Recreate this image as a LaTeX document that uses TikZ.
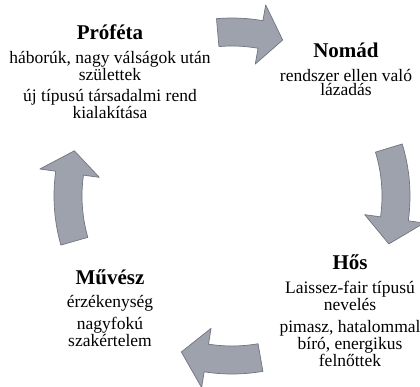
\documentclass[tikz,border=0pt]{standalone}
\usepackage{fontspec}
\setmainfont{Liberation Serif}
\usepackage{xcolor}
\usepackage{tikz}
\definecolor{arrowgray} {RGB} {158, 162, 172}
\definecolor{arrowedge} {RGB} {112, 116, 126}
\usetikzlibrary{calc}
\tikzstyle{cycle}=[
  x=1pt, y=1pt, line join=round
]
\tikzstyle{cyctitle}=[
  font=\fontsize{21}{21}\selectfont\bfseries, inner sep=0pt
]
\tikzstyle{cyctext}=[
  font=\fontsize{17.5}{14.5}\selectfont, align=center, inner sep=0pt, anchor=north
]
\tikzstyle{cycarrow}=[
  fill=arrowgray, draw=arrowedge, line width=0.7pt
]
% block arrow on the ring: start angle, head base angle, tip angle
\newcommand{\ringarrow}[3]{
  \filldraw[cycarrow] (#1:178pt) arc[start angle=#1, end angle=#2, radius=178pt]
    -- (#2:194pt) -- (#3:164pt) -- (#2:134pt) -- (#2:150pt)
    arc[start angle=#2, end angle=#1, radius=150pt] -- cycle;
}
\begin{document}
\begin{tikzpicture}[cycle]
    \useasboundingbox (0,0) rectangle (420,386);
    \node (profeta) [cyctitle] at (110, 354) {Próféta};
    \node (profeta a) [cyctext] at ($(profeta) + (0, -19)$) {háborúk, nagy válságok után\\ születtek};
    \node (profeta b) [cyctext] at ($(profeta) + (0, -57)$) {új típusú társadalmi rend\\ kialakítása};
    \node (nomad) [cyctitle] at (346, 336) {Nomád};
    \node (nomad a) [cyctext] at ($(nomad) + (0, -19)$) {rendszer ellen való\\ lázadás};
    \node (hos) [cyctitle] at (350, 124) {Hős};
    \node (hos a) [cyctext] at ($(hos) + (0, -19)$) {Laissez-fair típusú\\ nevelés};
    \node (hos b) [cyctext] at ($(hos) + (0, -58)$) {pimasz, hatalommal\\ bíró, energikus\\ felnőttek};
    \node (muvesz) [cyctitle] at (110, 109) {Művész};
    \node (muvesz a) [cyctext] at ($(muvesz) + (0, -18)$) {érzékenység};
    \node (muvesz b) [cyctext] at ($(muvesz) + (0, -40)$) {nagyfokú\\ szakértelem};
    \coordinate (hub) at (232, 190);
    \begin{scope}[shift={(hub)}]
    \ringarrow{95}{80}{72}
    \ringarrow{17}{-8}{-17}
    \ringarrow{-80}{-99}{-108}
    \ringarrow{196}{172}{164}
    \end{scope}
\end{tikzpicture}
\end{document}
